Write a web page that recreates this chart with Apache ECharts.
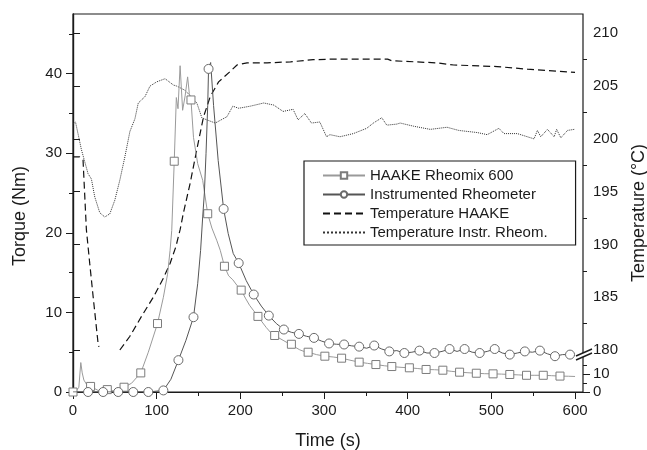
<!DOCTYPE html>
<html>
<head>
<meta charset="utf-8">
<script src="https://cdn.jsdelivr.net/npm/echarts@6/dist/echarts.min.js"></script>
<style>
  html, body { margin: 0; padding: 0; background: #fff; }
  #chart { width: 647px; height: 450px; }
</style>
</head>
<body>
<div id="chart"></div>
<script>
// torque of the HAAKE mixer, [time s, torque Nm]
var haakeTorque = [
    [0, 0], [5, 0.3], [7, 0.6], [9.3, 3.7], [11, 2.4], [13, 1.5], [16, 1.0], [21, 0.7],
    [30, 0.2], [41, 0.3], [50, 0.1], [61, 0.6], [70, 1.1], [81, 2.4], [90, 5.0], [101, 8.6],
    [108, 11.9], [113, 14.8], [116, 17.8], [118, 20.3], [121, 29.0], [123.5, 37.0], [125.5, 35.6],
    [128, 41.0], [131, 35.4], [134, 37.2], [137, 39.6], [139, 37.5], [141, 36.7], [144, 32.0],
    [149, 28.7], [155, 26.6], [161, 22.4], [166, 20.6], [172, 19.0], [176, 17.8], [181, 15.8],
    [186, 14.6], [191, 14.1], [196, 13.4], [201, 12.8], [206, 11.8], [211, 10.9], [216, 10.2],
    [221, 9.5], [226, 8.8], [231, 8.1], [236, 7.5], [241, 7.1], [246, 6.8], [251, 6.5], [256, 6.2],
    [261, 6.0], [266, 5.6], [271, 5.3], [276, 5.1], [281, 5.0], [291, 4.7], [301, 4.5], [311, 4.4],
    [321, 4.25], [331, 4.0], [342, 3.75], [352, 3.6], [362, 3.45], [372, 3.3], [381, 3.2],
    [392, 3.1], [402, 3.04], [412, 2.95], [422, 2.83], [432, 2.8], [442, 2.74], [452, 2.6],
    [462, 2.49], [472, 2.42], [482, 2.36], [492, 2.3], [502, 2.28], [512, 2.25], [522, 2.2],
    [532, 2.15], [542, 2.1], [552, 2.1], [562, 2.1], [572, 2.05], [582, 2.0], [592, 1.98], [600, 1.95]
];
var haakeMarks = [0, 21, 41, 61, 81, 101, 121, 141, 161, 181, 201, 221, 241, 261, 281, 301,
    321, 342, 362, 381, 402, 422, 442, 462, 482, 502, 522, 542, 562, 582];

// torque of the instrumented rheometer
var rheoTorque = [
    [0, 0], [18, 0], [36, 0], [54, 0], [72, 0], [90, 0], [108, 0.2], [117, 1.6], [126, 4.0],
    [135, 6.5], [144, 9.4], [149, 13.6], [152.5, 17.8], [155, 22], [157, 25], [159, 30], [161, 36],
    [162, 40.6], [164.5, 41.4], [168, 36], [173.5, 29.1], [180, 23.0], [185.5, 19.9], [191.5, 17.4],
    [198, 16.2], [207, 14.0], [216, 12.25], [225, 10.8], [234, 9.6], [243, 8.6], [252, 7.85],
    [261, 7.5], [270, 7.3], [279, 7.0], [288, 6.8], [297, 6.4], [306, 6.1], [315, 6.0], [324, 5.97],
    [333, 5.8], [342, 5.7], [351, 5.5], [360, 5.84], [369, 5.4], [378, 5.1], [387, 5.2], [396, 4.9],
    [405, 5.0], [414, 5.2], [423, 4.9], [432, 4.9], [441, 5.1], [450, 5.4], [459, 5.1], [468, 5.4],
    [477, 5.0], [486, 4.9], [495, 5.1], [504, 5.4], [513, 4.9], [522, 4.7], [531, 4.9], [540, 5.1],
    [549, 5.0], [558, 5.2], [567, 4.8], [576, 4.5], [585, 4.7], [594, 4.7], [600, 4.6]
];
var rheoMarks = [18, 36, 54, 72, 90, 108, 126, 144, 162, 180, 198, 216, 234, 252, 270, 288, 306,
    324, 342, 360, 378, 396, 414, 432, 450, 468, 486, 504, 522, 540, 558, 576, 594];

// temperatures, [time s, degC]; below 180 the curve falls into the axis break
var haakeTemp = [
    [0, 198.3], [8, 198.3], [12, 198.0], [16, 191.4], [20, 188.2], [24, 185.1], [30, 180.6],
    [31, 180.3], [43, '-'], [56, 180.0], [68, 181.3], [82, 183.2], [96, 185.0], [108, 186.8],
    [116, 188.2], [123, 189.8], [128, 191.4], [132, 193.0], [140, 195.8], [148, 199.0],
    [156, 202.1], [164, 204.0], [174, 205.4], [188, 206.4], [196, 207.0], [208, 207.2],
    [232, 207.2], [260, 207.3], [287, 207.5], [307, 207.55], [376, 207.55], [381, 207.4],
    [435, 207.2], [455, 207.0], [507, 206.85], [543, 206.6], [600, 206.3]
];
var rheoTemp = [
    [0, 201.4], [3, 201.6], [10, 199.0], [18, 196.7], [22, 196.2], [26, 194.5], [32, 193.0],
    [38, 192.6], [44, 192.9], [50, 194.2], [56, 196.1], [62, 198.3], [68, 200.7], [74, 201.9],
    [78, 203.4], [86, 204.0], [92, 205.0], [100, 205.4], [110, 205.7], [120, 205.1], [124, 205.0],
    [134, 204.6], [148, 203.4], [154, 202.0], [160, 201.8], [170, 201.5], [184, 202.1],
    [191, 203.1], [198, 202.9], [212, 203.1], [228, 203.4], [240, 203.2], [251, 202.6],
    [263, 202.8], [269, 201.8], [277, 202.4], [285, 201.5], [295, 201.6], [303, 200.2],
    [307, 200.4], [319, 200.2], [335, 200.5], [351, 201.0], [359, 201.5], [369, 202.0],
    [375, 201.3], [387, 201.4], [391, 201.5], [407, 201.2], [427, 200.9], [447, 201.1],
    [461, 200.8], [483, 200.6], [495, 200.4], [509, 201.0], [515, 200.5], [531, 200.5],
    [543, 200.2], [551, 200.0], [555, 200.8], [559, 200.2], [567, 200.9], [575, 200.2],
    [578, 200.9], [583, 200.1], [591, 200.8], [599, 200.9]
];

var timeTicks = [0, 100, 200, 300, 400, 500, 600];
var timeMinor = [50, 150, 250, 350, 450, 550];
var torqueTicks = [0, 10, 20, 30, 40];
var torqueMinor = [5, 15, 25, 35, 45];
var tempTicks = [180, 185, 190, 195, 200, 205, 210];
var tempMinor = [182.5, 187.5, 192.5, 197.5, 202.5, 207.5];
var lowTicks = [0, 10];
var lowMinor = [5, 15];

var FONT = '"Liberation Sans", Arial, Helvetica, sans-serif';
var INK = '#1b1b1b';
var NOMARK = { color: 'rgba(0,0,0,0)', borderColor: 'rgba(0,0,0,0)', borderWidth: 0 };

function withMarks(points, marks, shape) {
    return points.map(function (p) {
        return { value: p, symbol: marks.indexOf(p[0]) >= 0 ? shape : 'none' };
    });
}

function helperAxis(pos, min, max, ticks, len, labels, margin) {
    return {
        type: 'value', position: pos, min: min, max: max,
        axisLine: { show: false },
        axisTick: { show: true, length: len, customValues: ticks, lineStyle: { color: INK, width: 1 } },
        axisLabel: labels ? { show: true, customValues: labels, margin: margin, fontSize: 15, color: INK, fontFamily: FONT } : { show: false },
        splitLine: { show: false }
    };
}

var chart = echarts.init(document.getElementById('chart'));

var option = {
    animation: false,
    backgroundColor: '#fff',
    grid: {
        left: 73, right: 64, top: 14, bottom: 58,
        outerBoundsMode: 'none', containLabel: false,
        show: true, borderColor: INK, borderWidth: 1.2, backgroundColor: 'transparent'
    },
    legend: {
        orient: 'vertical',
        left: 304, top: 161,
        padding: [7, 28, 5, 18],
        itemWidth: 42, itemHeight: 8, itemGap: 4,
        borderColor: INK, borderWidth: 1.2,
        textStyle: { fontSize: 15, color: INK, fontFamily: FONT },
        data: [
            { name: 'HAAKE Rheomix 600' },
            { name: 'Instrumented Rheometer' },
            { name: 'Temperature HAAKE', itemStyle: NOMARK },
            { name: 'Temperature Instr. Rheom.', itemStyle: NOMARK }
        ]
    },
    xAxis: [{
        type: 'value', min: 0, max: 609.5,
        axisLine: { show: true, lineStyle: { color: INK, width: 1.2 } },
        axisTick: { show: true, length: 7, customValues: timeTicks, lineStyle: { color: INK } },
        axisLabel: { customValues: timeTicks, margin: 11, fontSize: 15, color: INK, fontFamily: FONT },
        splitLine: { show: false },
        name: 'Time (s)', nameLocation: 'middle', nameGap: 40,
        nameTextStyle: { fontSize: 18, color: INK, fontFamily: FONT }
    }, {
        type: 'value', position: 'bottom', min: 0, max: 609.5,
        axisLine: { show: false },
        axisTick: { show: true, length: 4, customValues: timeMinor, lineStyle: { color: INK } },
        axisLabel: { show: false },
        splitLine: { show: false }
    }],
    yAxis: [{
        type: 'value', position: 'left', min: 0, max: 47.5,
        axisLine: { show: true, lineStyle: { color: INK, width: 1.2 } },
        axisTick: { show: true, length: 7, customValues: torqueTicks, lineStyle: { color: INK } },
        axisLabel: { customValues: torqueTicks, margin: 11, fontSize: 15, color: INK, fontFamily: FONT },
        splitLine: { show: false }
    }, {
        type: 'value', position: 'right', min: 176.02, max: 211.83,
        axisLine: { show: true, lineStyle: { color: INK, width: 1.2 } },
        axisTick: { show: true, length: 7, customValues: tempTicks, lineStyle: { color: INK } },
        axisLabel: { customValues: tempTicks, margin: 10, fontSize: 15, color: INK, fontFamily: FONT },
        splitLine: { show: false }
    },
        helperAxis('left', 0, 47.5, torqueMinor, 4),
        helperAxis('right', 176.02, 211.83, tempMinor, 4),
        helperAxis('right', 0, 210, lowTicks, 7, lowTicks, 10),
        helperAxis('right', 0, 210, lowMinor, 4)
    ],
    series: [{
        name: 'HAAKE Rheomix 600',
        type: 'line', yAxisIndex: 0,
        symbol: 'rect', symbolSize: 8, showAllSymbol: true,
        data: withMarks(haakeTorque, haakeMarks, 'rect'),
        lineStyle: { color: '#9a9a9a', width: 1 },
        itemStyle: { color: '#fff', borderColor: '#7c7c7c', borderWidth: 1 },
        emphasis: { disabled: true },
        z: 3
    }, {
        name: 'Instrumented Rheometer',
        type: 'line', yAxisIndex: 0,
        symbol: 'circle', symbolSize: 9, showAllSymbol: true,
        data: withMarks(rheoTorque, rheoMarks, 'circle'),
        lineStyle: { color: '#555', width: 1 },
        itemStyle: { color: '#fff', borderColor: '#6a6a6a', borderWidth: 1 },
        emphasis: { disabled: true },
        z: 4
    }, {
        name: 'Temperature HAAKE',
        type: 'line', yAxisIndex: 1,
        symbol: 'none',
        data: haakeTemp,
        lineStyle: { color: '#111', width: 1.2, type: [7, 4] },
        itemStyle: { color: '#111' },
        emphasis: { disabled: true },
        z: 2
    }, {
        name: 'Temperature Instr. Rheom.',
        type: 'line', yAxisIndex: 1,
        symbol: 'none',
        data: rheoTemp,
        lineStyle: { color: '#333', width: 1, type: 'dotted' },
        itemStyle: { color: '#333' },
        emphasis: { disabled: true },
        z: 2
    }],
    graphic: [{
        type: 'text', x: 20, y: 216, rotation: Math.PI / 2,
        style: { text: 'Torque (Nm)', fontSize: 18, fill: INK, fontFamily: FONT, align: 'center', verticalAlign: 'middle' }
    }, {
        type: 'text', x: 639, y: 213, rotation: Math.PI / 2,
        style: { text: 'Temperature (°C)', fontSize: 18, fill: INK, fontFamily: FONT, align: 'center', verticalAlign: 'middle' }
    }, {
        // axis break mark on the temperature axis
        type: 'polygon', z: 100,
        shape: { points: [[576, 356], [592, 349], [592, 353], [576, 360]] },
        style: { fill: '#fff' }
    }, {
        type: 'line', z: 101,
        shape: { x1: 576, y1: 356, x2: 592, y2: 349 },
        style: { stroke: INK, lineWidth: 1.4 }
    }, {
        type: 'line', z: 101,
        shape: { x1: 576, y1: 360, x2: 592, y2: 353 },
        style: { stroke: INK, lineWidth: 1.4 }
    }]
};

chart.setOption(option);
</script>
</body>
</html>
